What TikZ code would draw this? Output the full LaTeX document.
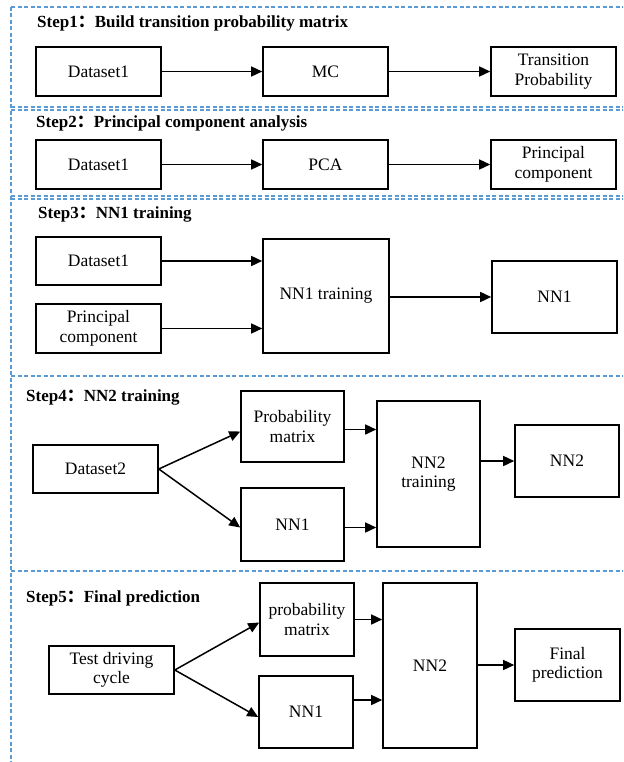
\documentclass[tikz,border=0pt]{standalone}
\usepackage{fontspec}
\setmainfont{Liberation Serif}
\newfontfamily\cjk{Noto Sans CJK SC}
\usetikzlibrary{arrows.meta}
\definecolor{frameblue}{HTML}{5B9BD5}

\begin{document}
\begin{tikzpicture}[x=1pt, y=-1pt,
    every node/.style={font=\fontsize{17.5}{19.5}\selectfont},
    steplabel/.style={font=\fontsize{17}{19.5}\selectfont\bfseries, anchor=west, inner sep=0pt},
    box/.style={rectangle, draw=black, line width=1.6pt, align=center, inner sep=2pt, minimum width=125, minimum height=49},
    flow/.style={-{Triangle[length=11pt,width=10pt]}, line width=1.5pt},
    frame/.style={draw=frameblue, line width=1.3pt, dash pattern=on 4pt off 2.5pt},
]
\useasboundingbox (0,0) rectangle (623,762);
% dashed step frames
\foreach \yy in {7,107,110,196,199,376,571} {
    \draw[frame] (11,\yy) -- (623,\yy);
}
\draw[frame] (11,7) -- (11,762);
% Step1
\node[steplabel] (labA) at (37,23) {Step1{\cjk ：}Build transition probability matrix};
\node[box] (dsA) at (98.5,71.5) {Dataset1};
\node[box] (mc) at (325.5,71.5) {MC};
\node[box] (tp) at (553.5,71.5) {Transition\\Probability};
\draw[flow] (dsA) -- (mc);
\draw[flow] (mc) -- (tp);
% Step2
\node[steplabel] (labB) at (36,123) {Step2{\cjk ：}Principal component analysis};
\node[box] (dsB) at (98.5,164.5) {Dataset1};
\node[box] (pca) at (325.5,164.5) {PCA};
\node[box] (pcB) at (553.5,164.5) {Principal\\component};
\draw[flow] (dsB) -- (pca);
\draw[flow] (pca) -- (pcB);
% Step3
\node[steplabel] (labC) at (38,214) {Step3{\cjk ：}NN1 training};
\node[box, minimum height=48] (dsC) at (98.5,261) {Dataset1};
\node[box] (pcC) at (98.5,328.5) {Principal\\component};
\node[box, minimum width=126, minimum height=114] (nnonetr) at (326,296) {NN1 training};
\node[box, minimum height=72] (nnoneC) at (554.5,297) {NN1};
\draw[flow] (dsC.east) -- (dsC.east -| nnonetr.west);
\draw[flow] (pcC.east) -- (pcC.east -| nnonetr.west);
\draw[flow] (nnonetr.east |- nnoneC.west) -- (nnoneC.west);
% Step4
\node[steplabel] (labD) at (26,397) {Step4{\cjk ：}NN2 training};
\node[box, minimum height=48] (dstwo) at (95.5,469) {Dataset2};
\node[box, minimum width=103, minimum height=71] (pmD) at (292.5,426.5) {Probability\\matrix};
\node[box, minimum width=103, minimum height=73] (nnoneD) at (292.5,524.5) {NN1};
\node[box, minimum width=103, minimum height=146] (nntwotr) at (428.5,474) {NN2\\training};
\node[box, minimum width=104, minimum height=72] (nntwo) at (567,461) {NN2};
\draw[flow] (dstwo.east) -- ([yshift=-5pt]pmD.west);
\draw[flow] (dstwo.east) -- ([yshift=-3pt]nnoneD.west);
\draw[flow] ([yshift=-3pt]pmD.east) -- ([yshift=-3pt]pmD.east -| nntwotr.west);
\draw[flow] ([yshift=-3pt]nnoneD.east) -- ([yshift=-3pt]nnoneD.east -| nntwotr.west);
\draw[flow] (nntwotr.east |- nntwo.west) -- (nntwo.west);
% Step5
\node[steplabel] (labE) at (26,598) {Step5{\cjk ：}Final prediction};
\node[box, minimum height=48] (tdc) at (111.5,670) {Test driving\\cycle};
\node[box, minimum width=94, minimum height=73] (pmE) at (307,619.5) {probability\\matrix};
\node[box, minimum width=94, minimum height=72] (nnoneE) at (306,712) {NN1};
\node[box, minimum width=94, minimum height=165] (nntwoE) at (430,665.5) {NN2};
\node[box, minimum width=105, minimum height=72] (fp) at (567.5,665) {Final\\prediction};
\draw[flow] (tdc.east) -- ([yshift=-3pt]pmE.west);
\draw[flow] (tdc.east) -- ([yshift=-5pt]nnoneE.west);
\draw[flow] (pmE.east) -- (pmE.east -| nntwoE.west);
\draw[flow] ([yshift=12pt]nnoneE.east) -- ([yshift=12pt]nnoneE.east -| nntwoE.west);
\draw[flow] (nntwoE.east |- fp.west) -- (fp.west);
\end{tikzpicture}
\end{document}
